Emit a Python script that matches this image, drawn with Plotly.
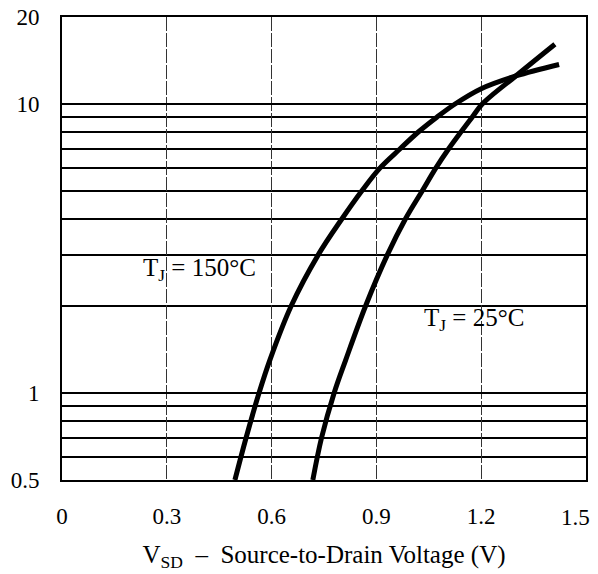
import plotly.graph_objects as go

# Data (source current in A vs source-to-drain voltage in V)
vsd_150 = [0.495, 0.527, 0.564, 0.595, 0.656, 0.733, 0.801, 0.858, 0.910, 0.968, 1.020, 1.073, 1.125, 1.200, 1.299, 1.423]
isd_150 = [0.5, 0.7, 1.0, 1.3, 2.0, 3.0, 4.0, 5.0, 6.0, 7.0, 8.0, 9.0, 10.0, 11.3, 12.5, 13.7]
vsd_25 = [0.718, 0.743, 0.779, 0.812, 0.869, 0.931, 0.983, 1.031, 1.070, 1.107, 1.142, 1.174, 1.203, 1.299, 1.411]
isd_25 = [0.5, 0.7, 1.0, 1.3, 2.0, 3.0, 4.0, 5.0, 6.0, 7.0, 8.0, 9.0, 10.0, 12.5, 16.1]

x_ticks = [0, 0.3, 0.6, 0.9, 1.2]
x_labels = ["0", "0.3", "0.6", "0.9", "1.2"]
x_end_tick = 1.5
x_end_label = "1.5"
y_ticks = [0.5, 1, 10, 20]
y_labels = ["0.5", "1", "10", "20"]
y_minor_grid = [0.6, 0.7, 0.8, 0.9, 2, 3, 4, 5, 6, 7, 8, 9]

font_family = "Liberation Serif, serif"

fig = go.Figure()
for xs, ys in [(vsd_150, isd_150), (vsd_25, isd_25)]:
    fig.add_trace(go.Scatter(
        x=xs, y=ys, mode="lines",
        line=dict(color="black", width=5, shape="spline", smoothing=1.0),
        showlegend=False, hoverinfo="skip",
    ))

fig.add_annotation(x=0.395, y=0.454, xref="x", yref="y domain",
                   text="T<sub>J</sub> = 150°C", showarrow=False,
                   font=dict(family=font_family, size=25, color="black"))
fig.add_annotation(x=1.18, y=0.309, xref="x", yref="y domain",
                   text="T<sub>J</sub> = 25°C", showarrow=False,
                   font=dict(family=font_family, size=25, color="black"))
# last x tick label, right-aligned at the plot edge as in the reference
fig.add_annotation(x=x_end_tick, y=0, xref="x", yref="y domain",
                   text=x_end_label, showarrow=False,
                   xanchor="right", yanchor="middle", xshift=6, yshift=-37,
                   font=dict(family=font_family, size=23, color="black"))

# page body adds an 8px margin, so the figure is sized to fit the 598x574 window
fig.update_layout(
    width=590, height=566,
    margin=dict(l=54, r=12, t=9, b=94),
    paper_bgcolor="white", plot_bgcolor="white",
    font=dict(family=font_family, size=23, color="black"),
    xaxis=dict(
        range=[0, 1.5], tickmode="array", tickvals=x_ticks, ticktext=x_labels,
        showgrid=True, gridcolor="#333", gridwidth=1, griddash="14px,2px",
        showline=True, linecolor="black", linewidth=2, mirror=True,
        ticks="", ticklabelstandoff=14, zeroline=False, automargin=False,
        title=dict(text="V<sub>SD</sub>  –  Source-to-Drain Voltage (V)",
                   standoff=18, font=dict(family=font_family, size=25)),
    ),
    yaxis=dict(
        type="log", range=[-0.30103, 1.30103],
        tickmode="array", tickvals=y_ticks, ticktext=y_labels,
        showgrid=True, gridcolor="black", gridwidth=1.5,
        minor=dict(tickmode="array", tickvals=y_minor_grid, showgrid=True,
                   gridcolor="black", gridwidth=1.5, ticks=""),
        showline=True, linecolor="black", linewidth=2, mirror=True,
        ticks="", ticklabelstandoff=16, zeroline=False, automargin=False,
        ticklabeloverflow="allow",
    ),
)

fig.write_html("out.html")
